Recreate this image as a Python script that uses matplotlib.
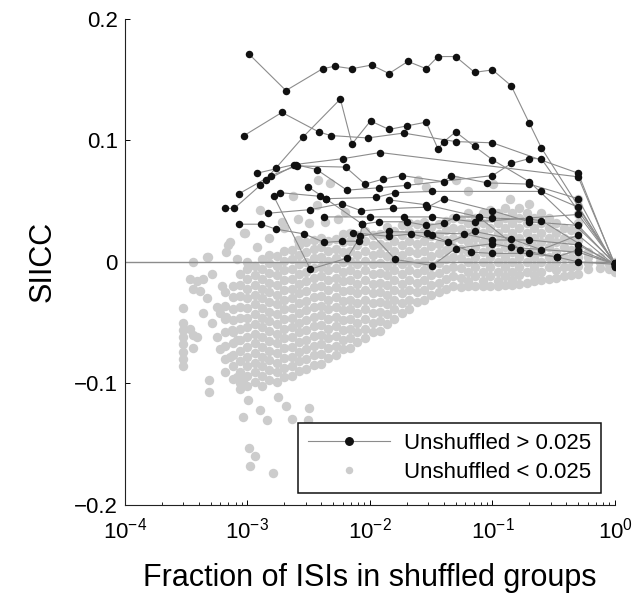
import matplotlib.pyplot as plt
from matplotlib.lines import Line2D

plt.rcParams['font.family'] = ['Liberation Sans', 'DejaVu Sans']
plt.rcParams['mathtext.default'] = 'regular'

# pairs with unshuffled SIICC > 0.025: one trace per pair, shuffled fraction vs SIICC
line1_x = [1.03e-3, 2.06e-3, 4.11e-3, 5.15e-3, 7.13e-3, 0.0103, 0.0143, 0.0204, 0.0287, 0.0359, 0.050, 0.0714, 0.100, 0.142, 0.200, 0.25, 1.0]
line1_y = [0.171, 0.141, 0.159, 0.161, 0.159, 0.162, 0.155, 0.165, 0.159, 0.169, 0.169, 0.156, 0.158, 0.145, 0.114, 0.094, -0.002]
line2_x = [9.4e-4, 1.91e-3, 3.81e-3, 4.77e-3, 9.57e-3, 0.0188, 0.050, 0.100, 0.50, 1.0]
line2_y = [0.104, 0.123, 0.107, 0.104, 0.102, 0.106, 0.099, 0.098, 0.073, -0.003]
line3_x = [1.27e-3, 1.7e-3, 2.86e-3, 5.73e-3, 7.13e-3, 0.0101, 0.0143, 0.0202, 0.0287, 0.0359, 0.0402, 0.050, 0.0714, 0.100, 0.200, 1.0]
line3_y = [0.063, 0.077, 0.103, 0.134, 0.097, 0.116, 0.109, 0.112, 0.115, 0.093, 0.099, 0.107, 0.095, 0.084, 0.066, -0.001]
line4_x = [1.2e-3, 2.38e-3, 6.06e-3, 0.0121, 0.50, 1.0]
line4_y = [0.073, 0.080, 0.085, 0.090, 0.070, -0.002]
line5_x = [8.5e-4, 1.56e-3, 2.52e-3, 6.33e-3, 9.1e-3, 0.0127, 0.0183, 0.0402, 0.0458, 0.0907, 0.200, 0.50, 1.0]
line5_y = [0.056, 0.071, 0.079, 0.078, 0.064, 0.068, 0.071, 0.066, 0.071, 0.065, 0.064, 0.052, -0.004]
line6_x = [6.5e-4, 7.8e-4, 1.41e-3, 2.49e-3, 3.67e-3, 6.49e-3, 0.0118, 0.0202, 0.100, 0.142, 0.200, 0.25, 1.0]
line6_y = [0.044, 0.044, 0.067, 0.080, 0.076, 0.059, 0.061, 0.063, 0.071, 0.081, 0.085, 0.085, -0.001]
line7_x = [8.5e-4, 1.3e-3, 1.7e-3, 2.91e-3, 4.24e-3, 5.87e-3, 8.13e-3, 8.66e-3, 0.0118, 0.0199, 0.0287, 0.0402, 0.050, 0.0771, 0.100, 0.200, 0.25, 1.0]
line7_y = [0.031, 0.031, 0.027, 0.023, 0.016, 0.017, 0.017, 0.031, 0.033, 0.033, 0.030, 0.032, 0.037, 0.037, 0.036, 0.035, 0.034, -0.003]
line8_x = [1.46e-3, 3.26e-3, 5.87e-3, 8.5e-3, 0.0154, 0.0294, 0.0402, 0.100, 0.200, 0.50, 1.0]
line8_y = [0.040, 0.043, 0.048, 0.042, 0.044, 0.045, 0.052, 0.042, 0.033, 0.030, -0.002]
line9_x = [1.64e-3, 3.26e-3, 6.49e-3, 8.34e-3, 0.0142, 0.0294, 0.0589, 0.100, 0.200, 0.50, 1.0]
line9_y = [0.054, -0.006, 0.003, 0.021, 0.025, 0.024, 0.023, 0.018, 0.018, 0.014, -0.002]
line10_x = [1.83e-3, 3.88e-3, 4.35e-3, 8.66e-3, 0.0161, 0.0323, 0.050, 0.100, 0.142, 0.50, 1.0]
line10_y = [0.057, 0.054, 0.052, 0.031, 0.002, -0.003, 0.011, 0.015, 0.012, 0.008, -0.002]
line11_x = [3.1e-3, 4.35e-3, 0.0112, 0.0161, 0.0323, 0.25, 0.50, 1.0]
line11_y = [0.062, 0.052, 0.053, 0.057, 0.058, 0.058, 0.045, -0.002]
line12_x = [4.24e-3, 0.0100, 0.019, 0.0321, 0.0714, 0.50, 1.0]
line12_y = [0.037, 0.037, 0.037, 0.037, 0.033, 0.039, -0.001]
line13_x = [7.26e-3, 0.0143, 0.0216, 0.0436, 0.0714, 0.142, 0.25, 0.50, 1.0]
line13_y = [0.024, 0.021, 0.023, 0.016, 0.025, 0.019, 0.010, 0.022, -0.003]
line14_x = [0.0143, 0.0287, 0.0771, 0.168, 0.334, 0.50, 1.0]
line14_y = [0.051, 0.047, 0.037, 0.010, 0.004, 0.010, -0.002]
line15_x = [0.0323, 0.0667, 0.100, 0.200, 0.334, 0.50, 1.0]
line15_y = [0.022, 0.008, 0.007, 0.007, 0.004, 0.000, -0.002]

traces = [(line1_x, line1_y), (line2_x, line2_y), (line3_x, line3_y), (line4_x, line4_y),
          (line5_x, line5_y), (line6_x, line6_y), (line7_x, line7_y), (line8_x, line8_y),
          (line9_x, line9_y), (line10_x, line10_y), (line11_x, line11_y), (line12_x, line12_y),
          (line13_x, line13_y), (line14_x, line14_y), (line15_x, line15_y)]

# pairs with unshuffled SIICC < 0.025: scattered points at the edges of the cloud
sparse_x = [2.97e-4, 2.97e-4, 2.97e-4, 2.97e-4, 3.0e-4, 2.97e-4, 3.0e-4, 2.97e-4,
            3.4e-4, 3.6e-4, 3.4e-4, 3.6e-4, 3.87e-4, 3.6e-4, 3.6e-4, 4.1e-4, 4.3e-4, 4.3e-4, 3.9e-4,
            4.7e-4, 4.85e-4, 4.85e-4, 5.6e-4, 6.0e-4, 5.6e-4, 6.0e-4, 5.1e-4, 4.7e-4, 5.1e-4,
            7.2e-4, 9.4e-4, 7.5e-4, 8.2e-4, 7.2e-4, 8.2e-4, 9.2e-4, 8.7e-4, 1.01e-3, 9.2e-4,
            1.03e-3, 1.15e-3, 1.05e-3, 1.61e-3, 1.44e-3, 2.31e-3, 3.12e-3, 3.18e-3, 2.06e-3,
            1.77e-3, 1.26e-3, 6.7e-4, 6.2e-4, 6.7e-4, 8.2e-4, 1.2e-3, 1.5e-3, 2.0e-3, 2.6e-3,
            3.2e-3, 1.26e-3, 9.5e-4, 6.9e-4, 4.8e-4, 1.91e-3, 2.58e-3, 3.7e-3, 4.3e-3, 6.25e-3,
            5.5e-3, 2.35e-3, 3.77e-3, 4.7e-3, 0.0247, 0.0287, 0.0503, 0.063, 0.101, 0.14, 0.2]
sparse_y = [-0.038, -0.050, -0.056, -0.062, -0.068, -0.074, -0.080, -0.086,
            -0.055, -0.060, -0.014, -0.022, -0.016, 0.000, -0.071, -0.024, -0.042, -0.014, -0.062,
            0.004, -0.097, -0.107, -0.037, -0.042, -0.062, -0.072, -0.050, -0.030, -0.010,
            0.016, 0.024, -0.056, -0.064, -0.078, -0.095, -0.097, -0.105, -0.114, -0.128,
            -0.153, -0.160, -0.168, -0.174, -0.130, -0.129, -0.130, -0.120, -0.119,
            -0.111, -0.122, -0.045, -0.020, 0.008, 0.002, 0.012, 0.020, 0.028, 0.018,
            0.032, 0.043, 0.024, 0.014, 0.004, 0.033, 0.035, 0.047, 0.033, 0.041,
            0.035, 0.054, 0.067, 0.065, 0.067, 0.062, 0.067, 0.058, 0.064, 0.052, 0.048]

# dense part of the cloud, grouped by shuffled fraction
band_x = [6.6e-4, 7.6e-4, 8.7e-4, 1.0e-3, 1.15e-3, 1.32e-3, 1.51e-3, 1.74e-3, 2.0e-3, 2.29e-3,
          2.63e-3, 3.0e-3, 3.47e-3, 4.0e-3, 4.57e-3, 5.25e-3, 6.0e-3, 6.9e-3, 7.9e-3, 9.1e-3,
          0.0105, 0.012, 0.0138, 0.0158, 0.0182, 0.0209, 0.024, 0.0275, 0.0316, 0.0363,
          0.0417, 0.0479, 0.055, 0.063, 0.072, 0.083, 0.095, 0.110, 0.126, 0.145,
          0.166, 0.19, 0.22, 0.25, 0.29, 0.33, 0.38, 0.44, 0.50, 0.60, 0.76, 0.90, 1.0]
band_y = [
    [-.091, -.080, -.069, -.058, -.047, -.036, -.025],
    [-.096, -.086, -.077, -.067, -.058, -.048, -.039, -.029, -.020],
    [-.100, -.091, -.082, -.073, -.064, -.055, -.046, -.037, -.028, -.019, -.010],
    [-.102, -.094, -.086, -.078, -.070, -.062, -.054, -.046, -.038, -.030, -.022, -.014, -.006, .000],
    [-.099, -.091, -.083, -.075, -.067, -.059, -.051, -.043, -.035, -.027, -.019, -.011, -.003],
    [-.102, -.094, -.086, -.078, -.070, -.062, -.054, -.046, -.038, -.030, -.022, -.014, -.006, .002],
    [-.097, -.089, -.081, -.073, -.065, -.057, -.049, -.041, -.033, -.025, -.017, -.009, -.001, .006],
    [-.099, -.091, -.083, -.075, -.067, -.059, -.051, -.043, -.035, -.027, -.019, -.011, -.003, .005],
    [-.095, -.087, -.079, -.071, -.063, -.055, -.047, -.039, -.031, -.023, -.015, -.007, .001, .009],
    [-.094, -.086, -.078, -.070, -.062, -.054, -.046, -.038, -.030, -.022, -.014, -.006, .002, .010],
    [-.090, -.082, -.074, -.066, -.058, -.050, -.042, -.034, -.026, -.018, -.010, -.002, .006, .014],
    [-.088, -.080, -.072, -.064, -.056, -.048, -.040, -.032, -.024, -.016, -.008, .000, .008, .016],
    [-.085, -.077, -.069, -.061, -.053, -.045, -.037, -.029, -.021, -.013, -.005, .003, .011, .018],
    [-.084, -.076, -.068, -.060, -.052, -.044, -.036, -.028, -.020, -.012, -.004, .004, .012, .020],
    [-.079, -.071, -.063, -.055, -.047, -.039, -.031, -.023, -.015, -.007, .001, .009, .017],
    [-.077, -.069, -.061, -.053, -.045, -.037, -.029, -.021, -.013, -.005, .003, .011, .019],
    [-.072, -.064, -.056, -.048, -.040, -.032, -.024, -.016, -.008, .000, .008, .016, .023],
    [-.071, -.063, -.055, -.047, -.039, -.031, -.023, -.015, -.007, .001, .009, .017, .024],
    [-.066, -.058, -.050, -.042, -.034, -.026, -.018, -.010, -.002, .006, .014, .022],
    [-.063, -.055, -.047, -.039, -.031, -.023, -.015, -.007, .001, .009, .017, .025],
    [-.058, -.050, -.042, -.034, -.026, -.018, -.010, -.002, .006, .014, .022],
    [-.057, -.049, -.041, -.033, -.025, -.017, -.009, -.001, .007, .015, .023],
    [-.051, -.043, -.035, -.027, -.019, -.011, -.003, .005, .013, .021, .029],
    [-.047, -.039, -.031, -.023, -.015, -.007, .001, .009, .017, .025],
    [-.042, -.034, -.026, -.018, -.010, -.002, .006, .014, .022, .030],
    [-.039, -.031, -.023, -.015, -.007, .001, .009, .017, .025, .032],
    [-.033, -.025, -.017, -.009, -.001, .007, .015, .023, .031],
    [-.031, -.023, -.015, -.007, .001, .009, .017, .025, .033],
    [-.027, -.019, -.011, -.003, .005, .013, .021, .029],
    [-.025, -.017, -.009, -.001, .007, .015, .023, .031],
    [-.022, -.014, -.006, .002, .010, .018, .026, .034],
    [-.020, -.012, -.004, .004, .012, .020, .028, .036],
    [-.021, -.013, -.005, .003, .011, .019, .027, .035],
    [-.020, -.016, -.008, .000, .008, .016, .024, .032, .040],
    [-.020, -.012, -.004, .004, .012, .020, .028, .036],
    [-.020, -.016, -.008, .000, .008, .016, .024, .032, .040],
    [-.020, -.012, -.004, .004, .012, .020, .028, .036, .043],
    [-.020, -.016, -.008, .000, .008, .016, .024, .032, .040],
    [-.019, -.012, -.004, .004, .012, .020, .028, .036, .044],
    [-.019, -.015, -.008, .000, .008, .016, .024, .032, .040],
    [-.018, -.011, -.004, .004, .012, .020, .028, .036, .044],
    [-.017, -.008, .000, .008, .016, .024, .032, .040],
    [-.016, -.011, -.004, .004, .012, .020, .028, .036],
    [-.015, -.008, .000, .008, .016, .024, .032, .040],
    [-.014, -.004, .004, .012, .020, .028, .036],
    [-.013, -.007, .000, .008, .016, .024, .032],
    [-.012, -.004, .004, .012, .020, .028],
    [-.011, -.004, .003, .010, .018, .026],
    [-.010, -.003, .004, .011, .018, .025, .032, .039, .046, .052],
    [-.006, -.001, .004, .008],
    [-.005, .000, .004],
    [-.006, -.002],
    [-.008, -.004, .000],
]

yticks = [-0.2, -0.1, 0, 0.1, 0.2]
ytick_labels = ['\u22120.2', '\u22120.1', '0', '0.1', '0.2']

light = '#cccccc'
trace_col = '#8c8c8c'
dot_col = '#111111'

fig = plt.figure(figsize=(6.44, 6.09), dpi=100)
ax = fig.add_axes([0.194, 0.171, 0.761, 0.798])

for fx, ys in zip(band_x, band_y):
    ax.plot([fx] * len(ys), ys, 'o', color=light, ms=6.8, mew=0, zorder=1)
ax.plot(sparse_x, sparse_y, 'o', color=light, ms=6.8, mew=0, zorder=1)

ax.axhline(0, color=trace_col, lw=1.0, zorder=2)

for xs, ys in traces:
    ax.plot(xs, ys, '-', color=trace_col, lw=0.8, zorder=3)
    ax.plot(xs, ys, 'o', color=dot_col, ms=5.4, mew=0, zorder=4)

ax.set_xscale('log')
ax.set_xlim(1e-4, 1)
ax.set_ylim(-0.2, 0.2)
ax.set_yticks(yticks)
ax.set_yticklabels(ytick_labels)

for side in ['top', 'right']:
    ax.spines[side].set_visible(False)
for side in ['left', 'bottom']:
    ax.spines[side].set_linewidth(0.8)
    ax.spines[side].set_color('#222222')

ax.tick_params(which='both', direction='in', labelsize=16, top=False, right=False)
ax.tick_params(which='major', length=3.5, width=0.7, pad=5)
ax.tick_params(which='minor', length=2, width=0.6)
ax.tick_params(axis='x', which='major', pad=9)

ax.set_xlabel('Fraction of ISIs in shuffled groups', fontsize=22, labelpad=14)
ax.set_ylabel('SIICC', fontsize=22, labelpad=12)

h_pos = Line2D([], [], color=trace_col, lw=0.8, marker='o', ms=5.4,
               markerfacecolor=dot_col, markeredgecolor=dot_col)
h_neg = Line2D([], [], color=light, lw=0, marker='o', ms=5.4, mew=0)
leg = ax.legend([h_pos, h_neg], ['Unshuffled > 0.025', 'Unshuffled < 0.025'],
                loc='lower right', bbox_to_anchor=(0.971, 0.025), borderaxespad=0,
                fontsize=16, handlelength=3.7, fancybox=False, framealpha=1,
                edgecolor='#111111', borderpad=0.45, labelspacing=0.35, handletextpad=0.6)
leg.get_frame().set_linewidth(1.1)

fig.savefig('out.png', dpi=100)
